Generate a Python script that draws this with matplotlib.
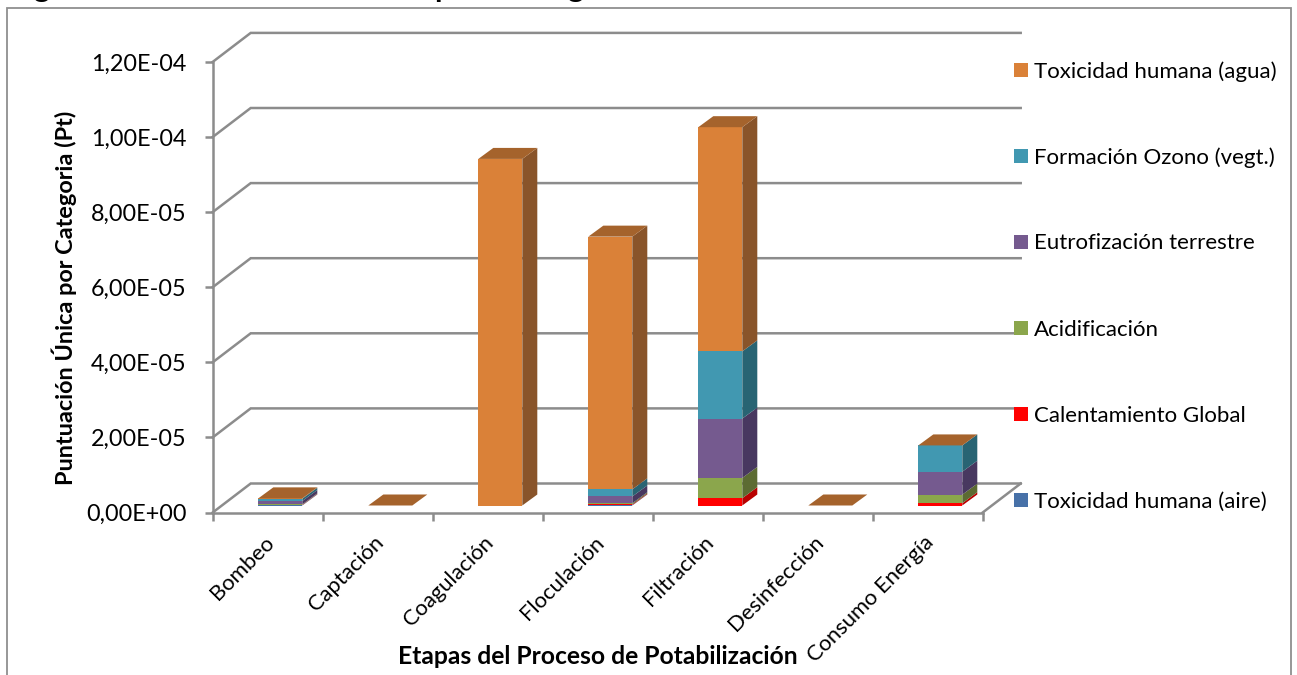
import matplotlib
matplotlib.use("Agg")
import matplotlib.pyplot as plt
from matplotlib.patches import Polygon, Rectangle
from matplotlib.transforms import ScaledTranslation
import numpy as np

W, H = 1297, 675

etapas = ["Bombeo", "Captación", "Coagulación", "Floculación", "Filtración", "Desinfección", "Consumo Energía"]

# stacked bottom to top
tox_aire = [0.1e-6, 0, 0, 0.1e-6, 0, 0, 0]
calentamiento = [0.1e-6, 0, 0, 0.2e-6, 1.95e-6, 0, 0.6e-6]
acidificacion = [0.1e-6, 0, 0, 0.3e-6, 5.4e-6, 0, 2.3e-6]
eutrofizacion = [0.9e-6, 0, 0, 1.8e-6, 15.8e-6, 0, 6.1e-6]
ozono = [0.6e-6, 0, 0, 1.9e-6, 17.9e-6, 0, 7.0e-6]
tox_agua = [0.1e-6, 0, 92.3e-6, 67.3e-6, 59.7e-6, 0, 0]

nombres = ["Toxicidad humana (aire)", "Calentamiento Global", "Acidificación",
           "Eutrofización terrestre", "Formación Ozono (vegt.)", "Toxicidad humana (agua)"]
series = [tox_aire, calentamiento, acidificacion, eutrofizacion, ozono, tox_agua]
frente = ["#4771A8", "#FF0000", "#8BA64C", "#755A8F", "#4198B1", "#DA8138"]
lado = ["#2F4C72", "#B80000", "#5C6B32", "#483860", "#286473", "#89542A"]
color_tapa = "#A5632C"

yticks = [0, 2e-5, 4e-5, 6e-5, 8e-5, 1e-4, 1.2e-4]
ylabels = ["0,00E+00", "2,00E-05", "4,00E-05", "6,00E-05", "8,00E-05", "1,00E-04", "1,20E-04"]

FONT = "Lato"
GRIS = "#8C8C8C"
LW = 1.8

plt.rcParams["font.family"] = [FONT, "DejaVu Sans"]

fig = plt.figure(figsize=(W / 100, H / 100), dpi=100)

# axes box covers exactly the front plane of the 3d-looking plot
x0, x1 = 212.7, 982.7
y0, y1 = 512.5, 61.9
ax = fig.add_axes([x0 / W, (H - y0) / H, (x1 - x0) / W, (y0 - y1) / H])
ax.set_xlim(0, 7)
ax.set_ylim(0, 1.2e-4)
ax.patch.set_alpha(0)

px_x = 7 / (x1 - x0)
px_y = 1.2e-4 / (y0 - y1)

# depth of the walls and of the bars, in pixels
dx, dy = 38 * px_x, 29 * px_y
bar_dx, bar_dy = 15 * px_x, 11 * px_y
bar_w = 44 * px_x
bar_off = 45.6 * px_x
lift = 7 * px_y


def fig_xy(x, y):
    return x / W, (H - y) / H


# chart frame, the bottom runs past the edge
fig.add_artist(Rectangle(fig_xy(6.5, 690), 1284.5 / W, 682 / H, transform=fig.transFigure,
                         fill=False, ec="#8F8F8F", lw=1.3))

# back wall and floor lines
for v in yticks:
    ax.plot([0, dx, 7 + dx], [v, v + dy, v + dy], color=GRIS, lw=LW, clip_on=False, zorder=1,
            solid_joinstyle="miter")
ax.plot([7, 7 + dx], [0, dy], color=GRIS, lw=LW, clip_on=False, zorder=1)

for s in ["top", "right"]:
    ax.spines[s].set_visible(False)
for s in ["left", "bottom"]:
    ax.spines[s].set_color(GRIS)
    ax.spines[s].set_linewidth(LW)

ax.set_yticks(yticks)
ax.set_yticklabels(ylabels, fontsize=16.8, color="black")
ax.tick_params(axis="y", length=6, width=LW, color=GRIS, pad=13)
ax.set_xticks(range(8))
ax.set_xticklabels([])
ax.tick_params(axis="x", which="major", length=6, width=LW, color=GRIS)
ax.set_xticks(np.arange(7) + 0.5, minor=True)
ax.set_xticklabels(etapas, minor=True, rotation=45, ha="right", va="top",
                   rotation_mode="anchor", fontsize=15.8)
ax.tick_params(axis="x", which="minor", length=0, pad=14)
desplaza = ScaledTranslation(-4 / 100, 0, fig.dpi_scale_trans)
for lab in ax.get_xticklabels(minor=True):
    lab.set_transform(lab.get_transform() + desplaza)

# stacked bars: front with ax.bar, then side and top faces
acum = np.zeros(len(etapas))
for k, vals in enumerate(series):
    vals = np.array(vals)
    pos = np.arange(len(etapas)) + bar_off
    ax.bar(pos, vals, width=bar_w, bottom=acum + lift, align="edge", color=frente[k],
           linewidth=0, zorder=3, clip_on=False)
    for i in range(len(etapas)):
        if vals[i] > 0:
            xr = pos[i] + bar_w
            a = acum[i] + lift
            b = a + vals[i]
            ax.add_patch(Polygon([(xr, a), (xr + bar_dx, a + bar_dy), (xr + bar_dx, b + bar_dy), (xr, b)],
                                 closed=True, fc=lado[k], ec="none", zorder=3, clip_on=False))
    acum = acum + vals

for i in range(len(etapas)):
    xl = i + bar_off
    t = acum[i] + lift
    ax.add_patch(Polygon([(xl, t), (xl + bar_w, t), (xl + bar_w + bar_dx, t + bar_dy), (xl + bar_dx, t + bar_dy)],
                         closed=True, fc=color_tapa, ec="none", zorder=4, clip_on=False))

# axis titles
fig.text(598 / W, (H - 656) / H, "Etapas del Proceso de Potabilización", ha="center", va="center",
         fontsize=17.7, fontweight="bold")
fig.text(64 / W, (H - 297.5) / H, "Puntuación Única por Categoria (Pt)", ha="center", va="center",
         rotation=90, fontsize=16.9, fontweight="bold")

# legend entries, top to bottom
ley_y = [70, 156, 242, 328, 414, 500]
for k, yy in zip(range(5, -1, -1), ley_y):
    fig.add_artist(Rectangle(fig_xy(1014, yy + 7), 14 / W, 14 / H, transform=fig.transFigure,
                             fc=frente[k], ec="none", zorder=5))
    fig.text(1034 / W, (H - yy - 1.5) / H, nombres[k], ha="left", va="center", fontsize=16.0)

# heading above the frame, only the descenders land inside the canvas
for xp, ch in [(41, "g"), (443, "p"), (575, "g")]:
    fig.text(xp / W, (H + 3) / H, ch, ha="center", va="baseline", fontsize=22, fontweight="bold")

fig.savefig("out.png", dpi=100)
